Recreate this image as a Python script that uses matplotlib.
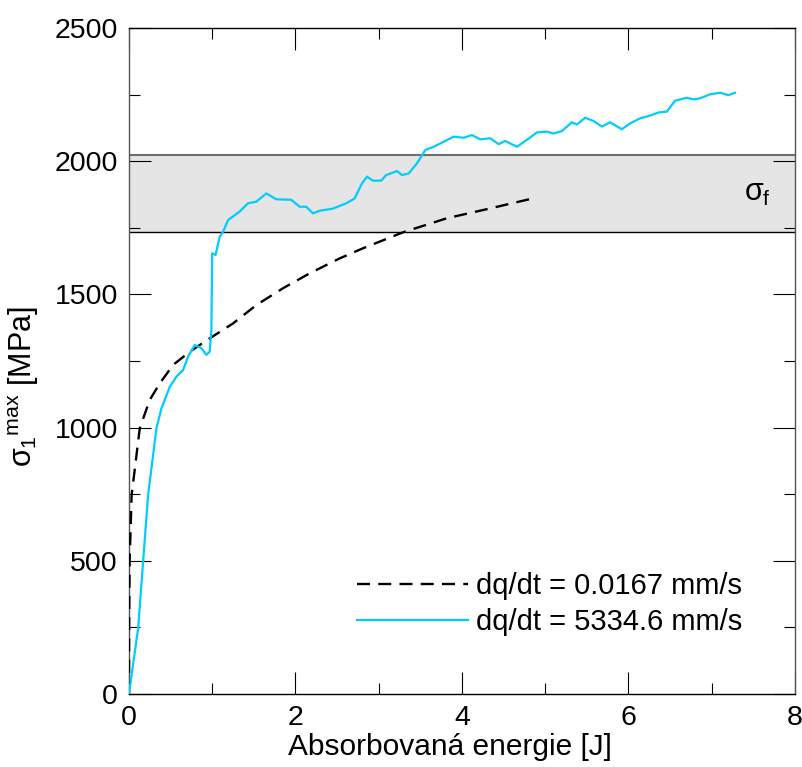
import numpy as np
import matplotlib.pyplot as plt
from matplotlib.ticker import MultipleLocator

plt.rcParams['font.family'] = ['Liberation Sans', 'DejaVu Sans']
plt.rcParams['mathtext.fontset'] = 'custom'
plt.rcParams['mathtext.rm'] = 'Liberation Sans'
plt.rcParams['mathtext.it'] = 'Liberation Sans'

# slow loading, dq/dt = 0.0167 mm/s
slow_x = [0, 0.002, 0.008, 0.032, 0.13, 0.25, 0.37, 0.53, 0.73, 0.99, 1.25,
          1.53, 1.85, 2.17, 2.53, 2.81, 3.30, 3.82, 4.30, 4.82]
slow_y = [0, 250, 497, 747, 998, 1104, 1166, 1235, 1285, 1339, 1391,
          1460, 1523, 1579, 1635, 1673, 1734, 1786, 1820, 1858]

# fast loading, dq/dt = 5334.6 mm/s
fast_x = [0, 0.11, 0.17, 0.23, 0.33, 0.39, 0.49, 0.57, 0.65, 0.71, 0.79,
          0.87, 0.93, 0.97, 0.99, 1.0, 1.04, 1.09, 1.13, 1.19, 1.33,
          1.43, 1.53, 1.65, 1.77, 1.95, 2.05, 2.13, 2.21, 2.29, 2.45, 2.61,
          2.71, 2.80, 2.86, 2.93, 3.03, 3.09, 3.22, 3.28, 3.36, 3.46, 3.56,
          3.66, 3.78, 3.90, 4.02, 4.12, 4.22, 4.34, 4.44, 4.52, 4.66, 4.78,
          4.90, 5.02, 5.10, 5.20, 5.32, 5.38, 5.48, 5.58, 5.68, 5.78, 5.92,
          6.02, 6.14, 6.26, 6.36, 6.46, 6.56, 6.70, 6.78, 6.86, 6.98, 7.10,
          7.20, 7.28]
fast_y = [0, 246, 497, 747, 997, 1072, 1153, 1191, 1216, 1266, 1310,
          1298, 1273, 1285, 1366, 1654, 1648, 1716, 1735, 1779, 1811,
          1842, 1848, 1879, 1857, 1855, 1829, 1829, 1804, 1814, 1822, 1842,
          1860, 1917, 1942, 1927, 1927, 1948, 1963, 1948, 1954, 1992, 2042,
          2054, 2073, 2092, 2088, 2098, 2082, 2086, 2064, 2076, 2054, 2080,
          2108, 2111, 2104, 2113, 2146, 2138, 2163, 2151, 2130, 2146, 2120,
          2142, 2161, 2171, 2183, 2186, 2227, 2238, 2232, 2236, 2251, 2257,
          2248, 2257]

sigma_f_low = 1735
sigma_f_high = 2025

fig = plt.figure(figsize=(8.03, 7.67), dpi=100)
ax = fig.add_axes([0.1606, 0.0952, 0.8294, 0.8683])

ax.axhspan(sigma_f_low, sigma_f_high, facecolor='#e5e5e5', edgecolor='none', zorder=0)
ax.axhline(sigma_f_high, color='#6e6e6e', lw=1.5, zorder=1)
ax.axhline(sigma_f_low, color='black', lw=1.0, zorder=1)
ax.text(7.55, 1880, r'$\sigma_\mathrm{f}$', fontsize=22, ha='center', va='center')

ax.plot(slow_x, slow_y, color='black', lw=1.7, dashes=(5.5, 3.5),
        label='dq/dt = 0.0167 mm/s', zorder=3)
ax.plot(fast_x, fast_y, color='#00ccff', lw=1.6,
        label='dq/dt = 5334.6 mm/s', zorder=3)

ax.set_xlim(0, 8)
ax.set_ylim(0, 2500)
ax.xaxis.set_major_locator(MultipleLocator(2))
ax.xaxis.set_minor_locator(MultipleLocator(1))
ax.yaxis.set_major_locator(MultipleLocator(500))
ax.yaxis.set_minor_locator(MultipleLocator(250))
ax.tick_params(which='both', direction='in', top=True, right=True,
               labelsize=20.5, width=0.8)
ax.tick_params(which='major', length=16, pad=8)
ax.tick_params(which='minor', length=8)
for side in ['left', 'right']:
    ax.spines[side].set_color('#555555')
for s in ax.spines.values():
    s.set_linewidth(1.0)

ax.set_xlabel('Absorbovaná energie [J]', fontsize=21.5)
ax.set_ylabel(r'$\sigma_1{}^{\mathrm{max}}$ [MPa]', fontsize=22)
ax.xaxis.set_label_coords(0.482, -0.058)
ax.yaxis.set_label_coords(-0.132, 0.461)

ax.legend(loc='upper left', bbox_to_anchor=(0.3025, 0.223), frameon=False,
          fontsize=21, handlelength=3.8, handletextpad=0.3, labelspacing=0.3)

fig.savefig('out.png', dpi=100)
